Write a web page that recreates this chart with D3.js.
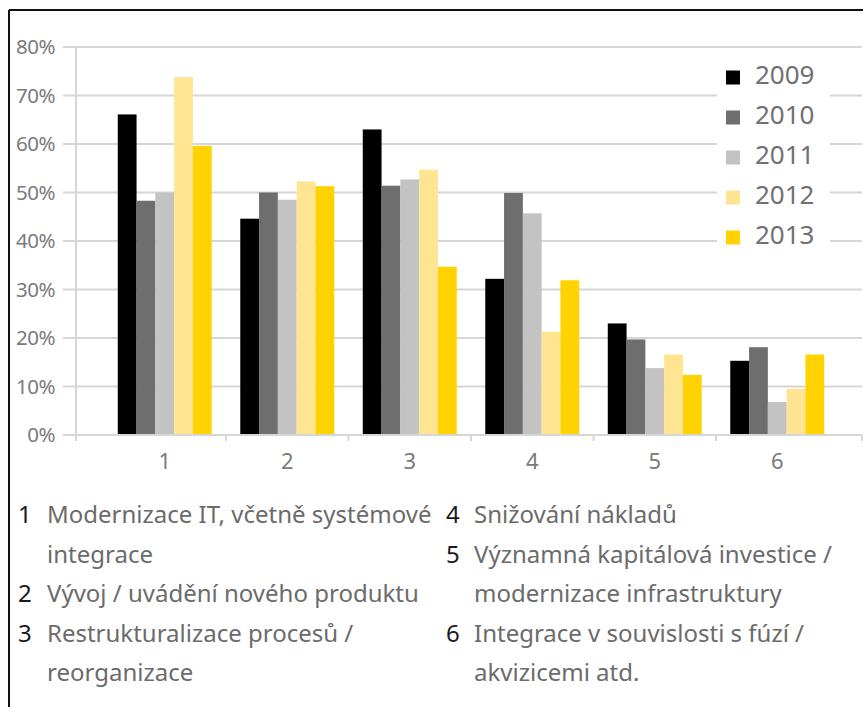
<!DOCTYPE html>
<html>
<head>
<meta charset="utf-8">
<script src="https://cdn.jsdelivr.net/npm/d3@7"></script>
<style>
  html, body { margin: 0; padding: 0; background: #fff; }
  svg { display: block; }
  text { font-family: "Noto Sans", "Open Sans", sans-serif; }
</style>
</head>
<body>
<svg id="chart" width="864" height="707"></svg>
<script>
// ---- data ----
const categories = ["1", "2", "3", "4", "5", "6"];
const years = ["2009", "2010", "2011", "2012", "2013"];
const v2009 = [66.1, 44.6, 63.0, 32.2, 23.0, 15.3];
const v2010 = [48.3, 50.0, 51.4, 49.9, 19.7, 18.1];
const v2011 = [50.0, 48.5, 52.7, 45.7, 13.8, 6.8];
const v2012 = [73.8, 52.3, 54.7, 21.3, 16.6, 9.5];
const v2013 = [59.6, 51.3, 34.7, 31.9, 12.4, 16.6];
const yTicks = [0, 10, 20, 30, 40, 50, 60, 70, 80];
const notesLeft = [
  ["1", "Modernizace IT, včetně systémové"],
  ["", "integrace"],
  ["2", "Vývoj / uvádění nového produktu"],
  ["3", "Restrukturalizace procesů /"],
  ["", "reorganizace"]
];
const notesRight = [
  ["4", "Snižování nákladů"],
  ["5", "Významná kapitálová investice /"],
  ["", "modernizace infrastruktury"],
  ["6", "Integrace v souvislosti s fúzí /"],
  ["", "akvizicemi atd."]
];

const seriesValues = [v2009, v2010, v2011, v2012, v2013];
const colors = ["#000000", "#6e6e6e", "#c3c3c4", "#ffe591", "#ffd200"];
const color = d3.scaleOrdinal().domain(years).range(colors);

const svg = d3.select("#chart");

// frame
svg.append("line").attr("x1", 9).attr("x2", 863).attr("y1", 10).attr("y2", 10)
  .attr("stroke", "#111").attr("stroke-width", 2);
svg.append("line").attr("x1", 9).attr("x2", 9).attr("y1", 10).attr("y2", 707)
  .attr("stroke", "#111").attr("stroke-width", 2);

// scales
const axisLeft = 76, axisRight = 862;
const y = d3.scaleLinear().domain([0, 80]).range([435, 47]);
const x = d3.scaleBand().domain(categories).range([103.5, 838.5])
  .paddingInner(0.233).paddingOuter(0.1165);
const xs = d3.scaleBand().domain(years).range([0, x.bandwidth()]);

// gridlines
svg.append("g").selectAll("line").data(yTicks).join("line")
  .attr("x1", 63).attr("x2", axisRight)
  .attr("y1", d => y(d)).attr("y2", d => y(d))
  .attr("stroke", "#d6d6d6").attr("stroke-width", 2);

// y axis line
svg.append("line").attr("x1", axisLeft).attr("x2", axisLeft)
  .attr("y1", y(80)).attr("y2", y(0))
  .attr("stroke", "#d6d6d6").attr("stroke-width", 2);

// y tick labels
svg.append("g").selectAll("text").data(yTicks).join("text")
  .attr("x", 55).attr("y", d => y(d)).attr("dy", "0.36em")
  .attr("text-anchor", "end").attr("font-size", 20.5).attr("fill", "#7a7a7a")
  .attr("letter-spacing", -0.5)
  .text(d => d + "%");

// legend background (hides gridlines)
svg.append("rect").attr("x", 717).attr("y", 56).attr("width", 113).attr("height", 200)
  .attr("fill", "#fff");

// bars
const groups = svg.append("g").selectAll("g").data(categories).join("g")
  .attr("transform", d => `translate(${x(d)},0)`);
groups.selectAll("rect")
  .data((c, ci) => years.map((yr, si) => ({ yr, v: seriesValues[si][ci] })))
  .join("rect")
  .attr("x", d => xs(d.yr)).attr("width", xs.bandwidth())
  .attr("y", d => y(d.v)).attr("height", d => y(0) - y(d.v))
  .attr("fill", d => color(d.yr));

// x axis baseline and ticks
svg.append("line").attr("x1", axisLeft).attr("x2", axisRight)
  .attr("y1", y(0)).attr("y2", y(0)).attr("stroke", "#d6d6d6").attr("stroke-width", 2);
const bounds = [axisLeft].concat(categories.slice(1).map(c => x(c) - x.step() * x.paddingInner() / 2), [axisRight]);
svg.append("g").selectAll("line").data(bounds).join("line")
  .attr("x1", d => d).attr("x2", d => d).attr("y1", y(0)).attr("y2", y(0) + 6)
  .attr("stroke", "#d6d6d6").attr("stroke-width", 2);
svg.append("g").selectAll("text").data(categories).join("text")
  .attr("x", d => x(d) + x.bandwidth() / 2).attr("y", 469)
  .attr("text-anchor", "middle").attr("font-size", 22).attr("fill", "#7a7a7a")
  .text(d => d);

// legend
const leg = svg.append("g").selectAll("g").data(years).join("g")
  .attr("transform", (d, i) => `translate(726,${77.5 + i * 40})`);
leg.append("rect").attr("x", 0).attr("y", -7).attr("width", 14).attr("height", 14)
  .attr("fill", d => color(d));
leg.append("text").attr("x", 29).attr("y", -2.5).attr("dy", "0.36em")
  .attr("font-size", 26).attr("fill", "#707070").text(d => d);

// footnotes
function notes(data, nx, tx) {
  const g = svg.append("g");
  data.forEach((row, i) => {
    const yy = 523 + i * 39.6;
    if (row[0]) g.append("text").attr("x", nx).attr("y", yy).attr("font-size", 24)
      .attr("fill", "#1a1a1a").text(row[0]);
    g.append("text").attr("x", tx).attr("y", yy).attr("font-size", 24)
      .attr("fill", "#6b6b6b").text(row[1]);
  });
}
notes(notesLeft, 18, 47);
notes(notesRight, 446, 474);
</script>
</body>
</html>
